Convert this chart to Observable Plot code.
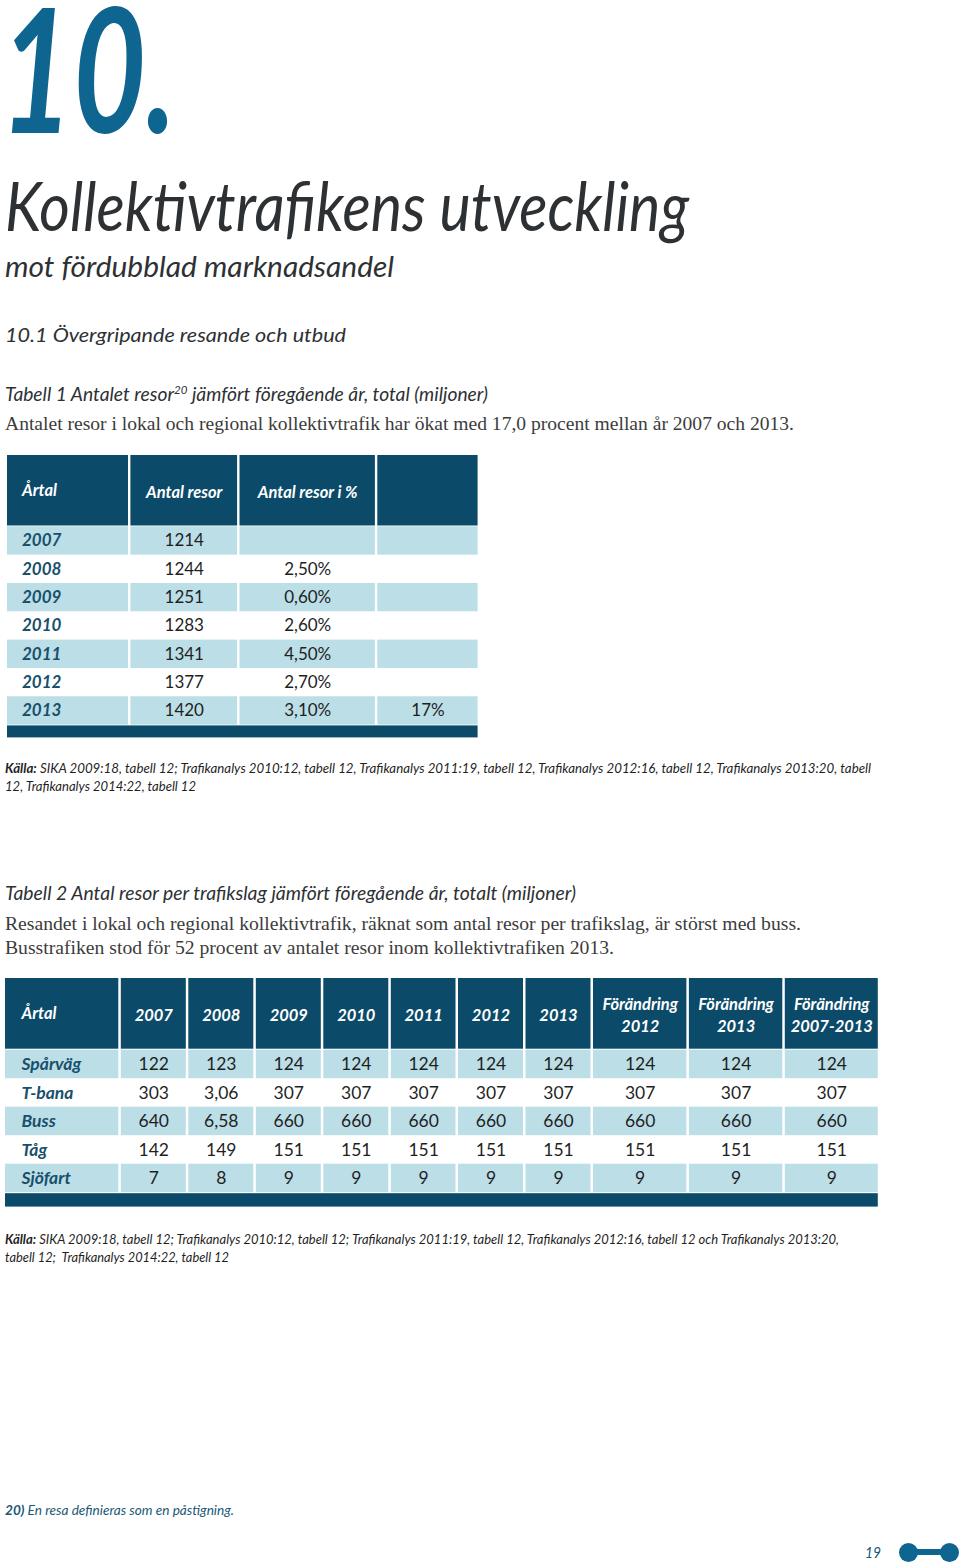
<!DOCTYPE html>
<html><head><meta charset="utf-8">
<script src="https://cdn.jsdelivr.net/npm/d3@7"></script>
<script src="https://cdn.jsdelivr.net/npm/@observablehq/plot@0.6"></script>
<style>
html,body{margin:0;padding:0;background:#fff;}
#page{position:relative;width:960px;height:1568px;overflow:hidden;background:#fff;}
.t{position:absolute;white-space:nowrap;transform-origin:0 0;}
sup{font-size:0.6em;line-height:0;position:relative;top:-0.6em;vertical-align:baseline;}
.dot{position:absolute;background:#0e6590;}
</style></head><body><div id="page"></div>
<script>
// ---------- DATA ----------
const t1Headers = ["Årtal", "Antal resor", "Antal resor i %", ""];
const t1Years = ["2007", "2008", "2009", "2010", "2011", "2012", "2013"];
const t1Resor = [1214, 1244, 1251, 1283, 1341, 1377, 1420];
const t1Pct = [null, 2.5, 0.6, 2.6, 4.5, 2.7, 3.1];
const t1Total = [null, null, null, null, null, null, 17];

const t2Headers = ["Årtal", "2007", "2008", "2009", "2010", "2011", "2012", "2013",
  "Förändring\n2012", "Förändring\n2013", "Förändring\n2007-2013"];
const t2Modes = ["Spårväg", "T-bana", "Buss", "Tåg", "Sjöfart"];
const t2Sparvag = [122, 123, 124, 124, 124, 124, 124, 124, 124, 124];
const t2Tbana   = [303, 3.06, 307, 307, 307, 307, 307, 307, 307, 307];
const t2Buss    = [640, 6.58, 660, 660, 660, 660, 660, 660, 660, 660];
const t2Tag     = [142, 149, 151, 151, 151, 151, 151, 151, 151, 151];
const t2Sjofart = [7, 8, 9, 9, 9, 9, 9, 9, 9, 9];

// ---------- STYLE / LAYOUT ----------
const DARK = "#0c4a69", LIGHT = "#bcdee7", TEAL = "#17506b", INK = "#1f1f1f";
const HEAD_GRAY = "#2d3134", BODY_GRAY = "#3c3c3c", NOTE_TEAL = "#1a5877";
const page = document.getElementById("page");
// ascent / descent (em) of each face, used to put a text's baseline where wanted
const FONT_M = {"Lato": [0.987, 0.213], "Liberation Serif": [0.891, 0.216]};
const sv = v => String(v).replace(".", ",");
const pct = v => v == null ? "" : v.toFixed(2).replace(".", ",") + "%";

function addText(html, o) {
  const fam = o.family || "Lato";
  const lh = o.lh || 1;
  const [a, dsc] = FONT_M[fam];
  const k = (lh - (a + dsc)) / 2 + a;
  const d = document.createElement("div");
  d.className = "t";
  d.innerHTML = html;
  Object.assign(d.style, {
    left: o.x + "px", top: (o.base - k * o.size) + "px", lineHeight: String(lh),
    fontSize: o.size + "px", fontFamily: `"${fam}"`, fontWeight: o.weight || 400,
    fontStyle: o.style || "normal", color: o.color || HEAD_GRAY
  });
  page.appendChild(d);
  if (o.width) {
    const w = d.getBoundingClientRect().width;
    d.style.transform = `scaleX(${o.width / w})`;
  }
  return d;
}

function drawTable(cfg) {
  const {left, top, colW, gap, headerH, rowGap, rowH, footerH, headers, rows, pad, headSize, bodySize, headLH} = cfg;
  const starts = []; let acc = 0;
  for (const w of colW) { starts.push(acc); acc += w + gap; }
  const totalW = acc - gap;
  const bodyTop = headerH + rowGap;
  const footTop = bodyTop + rows.length * rowH + rowGap;
  const totalH = footTop + footerH;
  const headCells = colW.map((w, i) => ({x1: starts[i], x2: starts[i] + w, y1: 0, y2: headerH}));
  const lightCells = [];
  rows.forEach((r, ri) => {
    if (ri % 2 === 0) colW.forEach((w, i) => lightCells.push({x1: starts[i], x2: starts[i] + w, y1: bodyTop + ri * rowH, y2: bodyTop + (ri + 1) * rowH}));
  });
  const foot = [{x1: 0, x2: totalW, y1: footTop, y2: totalH}];
  const headFirst = [{x: starts[0] + pad, y: headerH / 2, text: headers[0]}];
  const headRest = headers.slice(1).map((h, j) => ({x: starts[j + 1] + colW[j + 1] / 2, y: headerH / 2, text: h}));
  const labels = rows.map((r, ri) => ({x: starts[0] + pad, y: bodyTop + (ri + 0.5) * rowH, text: r[0]}));
  const values = [];
  rows.forEach((r, ri) => r.slice(1).forEach((v, j) => values.push({x: starts[j + 1] + colW[j + 1] / 2, y: bodyTop + (ri + 0.5) * rowH, text: v})));
  const R = {x1: "x1", x2: "x2", y1: "y1", y2: "y2"};
  const chart = Plot.plot({
    width: totalW, height: totalH, margin: 0,
    x: {type: "linear", domain: [0, totalW], range: [0, totalW], axis: null},
    y: {type: "linear", domain: [0, totalH], range: [0, totalH], axis: null},
    style: {background: "transparent", fontFamily: "Lato", overflow: "visible"},
    marks: [
      Plot.rect(headCells, {...R, fill: DARK}),
      Plot.rect(lightCells, {...R, fill: LIGHT}),
      Plot.rect(foot, {...R, fill: DARK}),
      Plot.text(headFirst, {x: "x", y: "y", text: "text", textAnchor: "start", fill: "white", fontWeight: "bold", fontStyle: "italic", fontSize: headSize}),
      Plot.text(headRest, {x: "x", y: "y", text: "text", textAnchor: "middle", fill: "white", fontWeight: "bold", fontStyle: "italic", fontSize: headSize, lineHeight: headLH}),
      Plot.text(labels, {x: "x", y: "y", text: "text", textAnchor: "start", fill: TEAL, fontWeight: "bold", fontStyle: "italic", fontSize: bodySize}),
      Plot.text(values, {x: "x", y: "y", text: "text", textAnchor: "middle", fill: INK, fontSize: bodySize})
    ]
  });
  chart.style.position = "absolute";
  chart.style.left = left + "px";
  chart.style.top = top + "px";
  page.appendChild(chart);
}

// ---------- PAGE TEXT ----------
addText("10.", {x: 0, base: 134, size: 173, lh: 0.7, weight: 700, style: "italic", color: "#0e6590", width: 176});
addText("Kollektivtrafikens utveckling", {x: 5, base: 231, size: 68, style: "italic", width: 684});
addText("mot fördubblad marknadsandel", {x: 5, base: 277, size: 28, style: "italic", width: 389});
addText("10.1 Övergripande resande och utbud", {x: 5, base: 342, size: 20, style: "italic", width: 341});
addText("Tabell 1 Antalet resor<sup>20</sup> jämfört föregående år, total (miljoner)", {x: 5, base: 401, size: 18.5, style: "italic", width: 483});
addText("Antalet resor i lokal och regional kollektivtrafik har ökat med 17,0 procent mellan år 2007 och 2013.", {x: 5, base: 430, size: 18, family: "Liberation Serif", color: BODY_GRAY, width: 789});

addText("<b>Källa:</b> SIKA 2009:18, tabell 12; Trafikanalys 2010:12, tabell 12, Trafikanalys 2011:19, tabell 12, Trafikanalys 2012:16, tabell 12, Trafikanalys 2013:20, tabell", {x: 5, base: 774, size: 12.5, style: "italic", color: INK, width: 866});
addText("12, Trafikanalys 2014:22, tabell 12", {x: 5, base: 792.5, size: 12.5, style: "italic", color: INK, width: 191});

addText("Tabell 2 Antal resor per trafikslag jämfört föregående år, totalt (miljoner)", {x: 5, base: 900, size: 18.5, style: "italic", width: 571});
addText("Resandet i lokal och regional kollektivtrafik, räknat som antal resor per trafikslag, är störst med buss.", {x: 5, base: 930, size: 18, family: "Liberation Serif", color: BODY_GRAY, width: 796});
addText("Busstrafiken stod för 52 procent av antalet resor inom kollektivtrafiken 2013.", {x: 5, base: 954, size: 18, family: "Liberation Serif", color: BODY_GRAY, width: 609});

addText("<b>Källa:</b> SIKA 2009:18, tabell 12; Trafikanalys 2010:12, tabell 12; Trafikanalys 2011:19, tabell 12, Trafikanalys 2012:16, tabell 12 och Trafikanalys 2013:20,", {x: 5, base: 1245, size: 12.5, style: "italic", color: INK, width: 834});
addText("tabell 12;&nbsp; Trafikanalys 2014:22, tabell 12", {x: 5, base: 1263, size: 12.5, style: "italic", color: INK, width: 224});

addText("<b>20)</b> En resa definieras som en påstigning.", {x: 5, base: 1515, size: 14, style: "italic", color: NOTE_TEAL, width: 229});
addText("19", {x: 865, base: 1558, size: 16, style: "italic", color: NOTE_TEAL, width: 16});

// logo
[[898.5, 1542.5, 19, 19, "50%"], [939.5, 1542.5, 19, 19, "50%"], [908, 1549, 41, 6, "0"]].forEach(([l, t, w, h, r]) => {
  const d = document.createElement("div"); d.className = "dot";
  Object.assign(d.style, {left: l + "px", top: t + "px", width: w + "px", height: h + "px", borderRadius: r});
  page.appendChild(d);
});

// ---------- TABLES ----------
drawTable({
  left: 6.7, top: 455, colW: [121, 106.7, 135.4, 100.3], gap: 2.4,
  headerH: 70.5, rowGap: 0.8, rowH: 28.33, footerH: 12,
  headers: t1Headers,
  rows: t1Years.map((y, i) => [y, String(t1Resor[i]), pct(t1Pct[i]), t1Total[i] == null ? "" : t1Total[i] + "%"]),
  pad: 14.5, headSize: 16.5, bodySize: 17, headLH: 1.35
});

const t2Values = [t2Sparvag, t2Tbana, t2Buss, t2Tag, t2Sjofart];
drawTable({
  left: 5, top: 978.3, colW: [113.3, 65, 65, 65, 65, 64.7, 65, 65, 93.4, 93.4, 93], gap: 2.5,
  headerH: 70.7, rowGap: 1, rowH: 28.5, footerH: 13.4,
  headers: t2Headers,
  rows: t2Modes.map((m, i) => [m, ...t2Values[i].map(sv)]),
  pad: 16, headSize: 16.5, bodySize: 17.5, headLH: 1.35
});
</script></body></html>
